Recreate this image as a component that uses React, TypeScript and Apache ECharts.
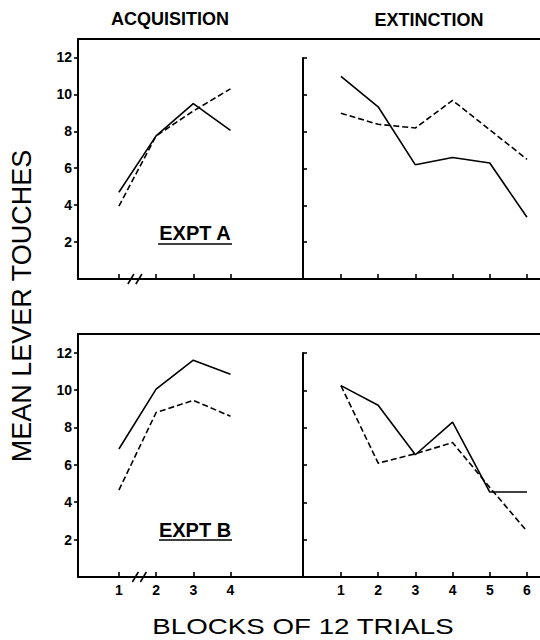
import React, { useEffect, useRef } from 'react';
import * as echarts from 'echarts';

const acqBlocks = [1, 2, 3, 4];
const extBlocks = [1, 2, 3, 4, 5, 6];
const yTickValues = [2, 4, 6, 8, 10, 12];

const exptAAcqSolid = [4.7, 7.75, 9.5, 8.05];
const exptAAcqDashed = [3.95, 7.75, 9.1, 10.3];
const exptAExtSolid = [11.0, 9.35, 6.2, 6.6, 6.3, 3.35];
const exptAExtDashed = [9.0, 8.4, 8.2, 9.7, 8.1, 6.5];

const exptBAcqSolid = [6.85, 10.05, 11.6, 10.85];
const exptBAcqDashed = [4.65, 8.8, 9.45, 8.6];
const exptBExtSolid = [10.25, 9.2, 6.55, 8.3, 4.55, 4.55];
const exptBExtDashed = [10.25, 6.1, 6.6, 7.2, 4.8, 2.45];

const panelTitles = ['ACQUISITION', 'EXTINCTION'];
const exptLabels = ['EXPT A', 'EXPT B'];
const yAxisTitle = 'MEAN LEVER TOUCHES';
const xAxisTitle = 'BLOCKS OF 12 TRIALS';

const FONT = 'Liberation Sans, Arial, sans-serif';

function pairs(xs: number[], ys: number[]) {
  return xs.map((x, i) => [x, ys[i]]);
}

export default function App() {
  const ref = useRef<HTMLDivElement>(null);
  useEffect(() => {
    if (!ref.current) return;
    const chart = echarts.init(ref.current, null, { renderer: 'svg' });

    const grids = [
      { left: 78, top: 39, width: 225, height: 240 },
      { left: 303, top: 58, width: 237, height: 221 },
      { left: 78, top: 334, width: 225, height: 243 },
      { left: 303, top: 353, width: 237, height: 224 },
    ];

    const labelStyle = { color: '#000', fontSize: 14, fontWeight: 'bold' as const, fontFamily: FONT };

    const makeX = (i: number, left: boolean, showLabels: boolean) => ({
      type: 'value',
      gridIndex: i,
      min: left ? -0.1 : -0.02,
      max: left ? 5.95 : 6.35,
      axisLine: { show: true, onZero: false, lineStyle: { color: '#000', width: 2 } },
      axisTick: {
        show: true,
        inside: true,
        length: 5,
        customValues: left ? acqBlocks : extBlocks,
        lineStyle: { color: '#000', width: 1.6 },
      },
      axisLabel: {
        show: showLabels,
        customValues: left ? acqBlocks : extBlocks,
        margin: 6,
        ...labelStyle,
      },
      splitLine: { show: false },
    });

    const makeY = (i: number, left: boolean) => ({
      type: 'value',
      gridIndex: i,
      min: 0,
      max: left ? 13 : 12,
      axisLine: { show: true, onZero: false, lineStyle: { color: '#000', width: 2 } },
      axisTick: {
        show: true,
        inside: !left,
        length: 4,
        customValues: yTickValues,
        lineStyle: { color: '#000', width: 1.6 },
      },
      axisLabel: {
        show: left,
        customValues: yTickValues,
        margin: 6,
        ...labelStyle,
      },
      splitLine: { show: false },
    });

    const line = (i: number, xs: number[], ys: number[], dashed: boolean) => ({
      type: 'line',
      xAxisIndex: i,
      yAxisIndex: i,
      data: pairs(xs, ys),
      showSymbol: false,
      symbol: 'none',
      silent: true,
      lineStyle: { color: '#000', width: 1.6, type: dashed ? [6, 3] : 'solid' },
    });

    chart.setOption({
      animation: false,
      backgroundColor: '#fff',
      textStyle: { fontFamily: FONT },
      grid: grids,
      xAxis: [makeX(0, true, false), makeX(1, false, false), makeX(2, true, true), makeX(3, false, true)],
      yAxis: [makeY(0, true), makeY(1, false), makeY(2, true), makeY(3, false)],
      series: [
        line(0, acqBlocks, exptAAcqSolid, false),
        line(0, acqBlocks, exptAAcqDashed, true),
        line(1, extBlocks, exptAExtSolid, false),
        line(1, extBlocks, exptAExtDashed, true),
        line(2, acqBlocks, exptBAcqSolid, false),
        line(2, acqBlocks, exptBAcqDashed, true),
        line(3, extBlocks, exptBExtSolid, false),
        line(3, extBlocks, exptBExtDashed, true),
      ],
    });

    // break marks on the acquisition x axes
    const breakTop = chart.convertToPixel({ xAxisIndex: 0, yAxisIndex: 0 }, [1.43, 0]) as number[];
    const breakBot = chart.convertToPixel({ xAxisIndex: 2, yAxisIndex: 2 }, [1.55, 0]) as number[];
    const slash = (cx: number, cy: number) => [
      { type: 'line', shape: { x1: cx - 7, y1: cy + 5, x2: cx - 1, y2: cy - 5 }, style: { stroke: '#000', lineWidth: 1.6 } },
      { type: 'line', shape: { x1: cx + 1, y1: cy + 5, x2: cx + 7, y2: cy - 5 }, style: { stroke: '#000', lineWidth: 1.6 } },
    ];

    const txt = (text: string, x: number, y: number, size: number, weight: string, extra: any = {}) => ({
      type: 'text',
      x,
      y,
      ...extra,
      style: {
        text,
        fill: '#000',
        fontSize: size,
        fontWeight: weight,
        fontFamily: FONT,
        align: 'center',
        verticalAlign: 'middle',
        textAlign: 'center',
        textVerticalAlign: 'middle',
      },
    });

    chart.setOption({
      graphic: [
        // frame top lines
        { type: 'line', shape: { x1: 77, y1: 39, x2: 540, y2: 39 }, style: { stroke: '#000', lineWidth: 2 } },
        { type: 'line', shape: { x1: 77, y1: 334, x2: 540, y2: 334 }, style: { stroke: '#000', lineWidth: 2 } },
        ...slash(breakTop[0], breakTop[1]),
        ...slash(breakBot[0], breakBot[1]),
        txt(panelTitles[0], 170, 18.5, 18, 'bold'),
        txt(panelTitles[1], 429, 19.5, 18, 'bold'),
        txt(exptLabels[0], 195, 233, 20, 'bold'),
        { type: 'line', shape: { x1: 158, y1: 244, x2: 232, y2: 244 }, style: { stroke: '#000', lineWidth: 1.6 } },
        txt(exptLabels[1], 195, 529.5, 20, 'bold'),
        { type: 'line', shape: { x1: 159, y1: 540, x2: 232, y2: 540 }, style: { stroke: '#000', lineWidth: 1.6 } },
        txt(yAxisTitle, 22, 306, 27, 'normal', { rotation: Math.PI / 2 }),
        txt(xAxisTitle, 303, 626, 22, 'normal', { scaleX: 1.26 }),
      ],
    });

    return () => {
      chart.dispose();
    };
  }, []);

  return (
    <div
      ref={ref}
      style={{ position: 'fixed', left: 0, top: 0, width: 540, height: 640, background: '#fff' }}
    />
  );
}
